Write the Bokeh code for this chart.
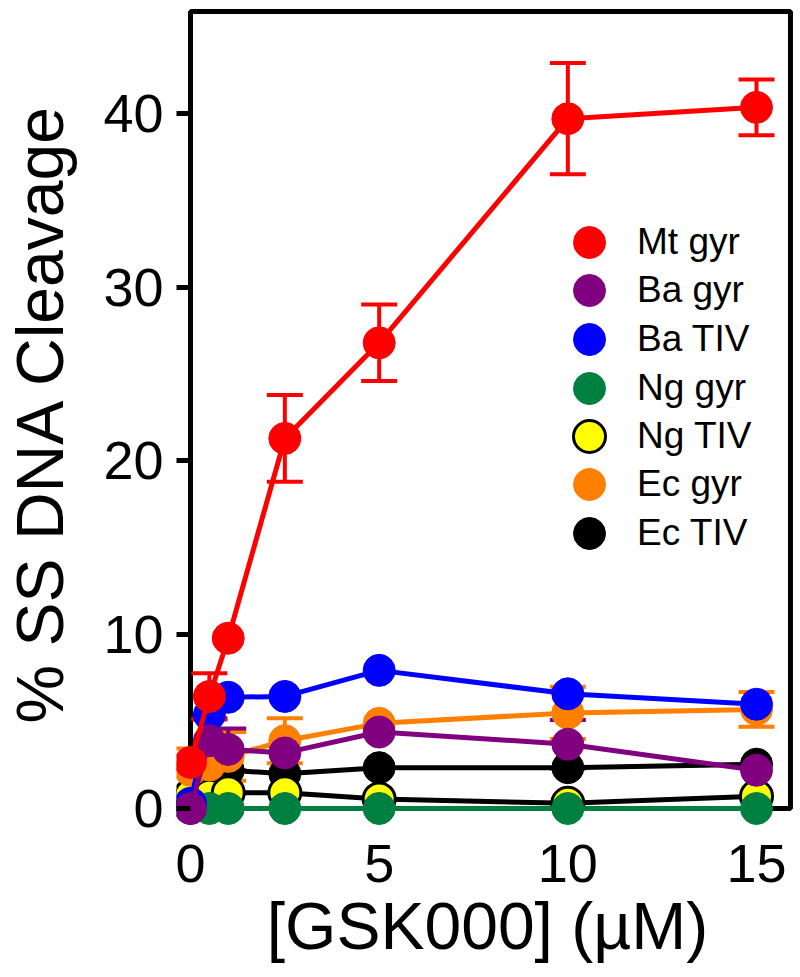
import numpy as np
from bokeh.plotting import figure
from bokeh.models import (Range1d, FixedTicker, LinearAxis, Legend, LegendItem,
                          Whisker, TeeHead, ColumnDataSource, BoxAnnotation)
from bokeh.embed import file_html
from bokeh.resources import INLINE

# ---------------- data ----------------
conc = [0, 0.5, 1, 2.5, 5, 10, 15]

mt_gyr = [2.65, 6.45, 9.8, 21.3, 26.8, 39.7, 40.35]
mt_gyr_err = [0, 1.33, 0, 2.5, 2.2, 3.2, 1.6]

ba_gyr = [0.0, 3.9, 3.4, 3.2, 4.4, 3.7, 2.2]
ba_gyr_err = [0, 1.3, 1.2, 0, 0, 1.4, 0]

ba_tiv = [0.3, 5.4, 6.4, 6.45, 7.95, 6.6, 6.0]

ng_gyr = [0, 0, 0, 0, 0, 0, 0]

ng_tiv = [0.75, 0.7, 0.9, 0.9, 0.55, 0.3, 0.7]

ec_gyr = [2.2, 2.5, 3.0, 3.9, 4.9, 5.5, 5.7]
ec_gyr_err = [1.25, 0, 1.4, 1.3, 0, 1.5, 1.0]

ec_tiv = [0.6, 2.0, 2.2, 2.0, 2.35, 2.35, 2.55]

labels = ["Mt gyr", "Ba gyr", "Ba TIV", "Ng gyr", "Ng TIV", "Ec gyr", "Ec TIV"]
x_ticks = [0, 5, 10, 15]
y_ticks = [0, 10, 20, 30, 40]

# ---------------- layout constants ----------------
X0, X1 = -0.371, 16.113
Y0, Y1 = -1.036, 46.5
X_RIGHT = 15.9
Y_TOP = 45.87
FONT = "Liberation Sans"
FRAME_W, FRAME_H = 622, 826

p = figure(frame_width=FRAME_W, frame_height=FRAME_H,
           x_range=Range1d(X0, X1), y_range=Range1d(Y0, Y1),
           x_axis_type=None, y_axis_type=None,
           output_backend="svg", toolbar_location=None,
           min_border_left=176, min_border_right=0, min_border_top=0, min_border_bottom=0)
p.outline_line_color = None
p.background_fill_color = "white"
p.border_fill_color = "white"

# frame box (x from 0, y from 0)
p.add_layout(BoxAnnotation(left=0, right=X_RIGHT, bottom=0, top=Y_TOP,
                           fill_alpha=0, fill_color=None, line_color="black",
                           line_alpha=1.0, line_width=5, level="underlay"))

# left axis
yaxis = LinearAxis(ticker=FixedTicker(ticks=y_ticks), axis_label="% SS DNA Cleavage")
yaxis.axis_line_color = None
yaxis.major_tick_in = 14
yaxis.major_tick_out = 0
yaxis.major_tick_line_width = 5
yaxis.minor_tick_line_color = None
yaxis.major_label_text_font = FONT
yaxis.major_label_text_font_size = "54px"
yaxis.major_label_text_color = "black"
yaxis.major_label_standoff = 13
yaxis.axis_label_text_font = FONT
yaxis.axis_label_text_font_size = "66px"
yaxis.axis_label_text_font_style = "normal"
yaxis.axis_label_text_color = "black"
yaxis.axis_label_standoff = 23
p.add_layout(yaxis, "left")

# bottom axis
xaxis = LinearAxis(ticker=FixedTicker(ticks=x_ticks), axis_label="[GSK000] (µM)")
xaxis.axis_line_color = None
xaxis.major_tick_in = 0
xaxis.major_tick_out = 0
xaxis.major_tick_line_color = None
xaxis.minor_tick_line_color = None
xaxis.major_label_text_font = FONT
xaxis.major_label_text_font_size = "54px"
xaxis.major_label_text_color = "black"
xaxis.major_label_standoff = 18
xaxis.axis_label_text_font = FONT
xaxis.axis_label_text_font_size = "66px"
xaxis.axis_label_text_font_style = "normal"
xaxis.axis_label_text_color = "black"
xaxis.axis_label_standoff = 4
p.add_layout(xaxis, "below")

# ---------------- series ----------------
# drawing order bottom -> top
series = [
    ("Ec TIV", ec_tiv, None, "black", "black", "black"),
    ("Ng TIV", ng_tiv, None, "yellow", "black", "black"),
    ("Ng gyr", ng_gyr, None, "#008040", "#008040", "#008040"),
    ("Ec gyr", ec_gyr, ec_gyr_err, "#ff8000", "#ff8000", "#ff8000"),
    ("Ba TIV", ba_tiv, None, "blue", "blue", "blue"),
    ("Ba gyr", ba_gyr, ba_gyr_err, "#800080", "#800080", "#800080"),
    ("Mt gyr", mt_gyr, mt_gyr_err, "red", "red", "red"),
]

scatter_r = {}
for name, ys, errs, fill, edge, linec in series:
    if errs is not None:
        xs_e = [x for x, e in zip(conc, errs) if e > 0]
        y_e = [y for y, e in zip(ys, errs) if e > 0]
        e_e = [e for e in errs if e > 0]
        src = ColumnDataSource(dict(x=xs_e,
                                    lo=list(np.array(y_e) - np.array(e_e)),
                                    hi=list(np.array(y_e) + np.array(e_e))))
        w = Whisker(source=src, base="x", upper="hi", lower="lo",
                    line_color=linec, line_width=4, level="underlay",
                    upper_head=TeeHead(size=36, line_color=linec, line_width=4),
                    lower_head=TeeHead(size=36, line_color=linec, line_width=4))
        p.add_layout(w)
for name, ys, errs, fill, edge, linec in series:
    p.line(conc, ys, line_color=linec, line_width=5)
    lw = 3 if name == "Ng TIV" else 1
    scatter_r[name] = p.scatter(conc, ys, size=32, fill_color=fill, line_color=edge, line_width=lw)

# legend: one single-item legend per row so rows can be packed closely
ROW0, PITCH, GLYPH = 242, 48.5, 80
for i, l in enumerate(labels):
    center = ROW0 + PITCH * i
    vy = FRAME_H - (center + GLYPH / 2)
    leg = Legend(items=[LegendItem(label=l, renderers=[scatter_r[l]])],
                 location=(373, round(vy)), glyph_width=GLYPH, glyph_height=GLYPH,
                 spacing=0, padding=0, margin=0, label_standoff=8,
                 label_text_font=FONT, label_text_font_size="37px", label_text_color="black",
                 border_line_color=None, background_fill_alpha=0)
    p.add_layout(leg)

open("out.html", "w").write(file_html(p, INLINE))
